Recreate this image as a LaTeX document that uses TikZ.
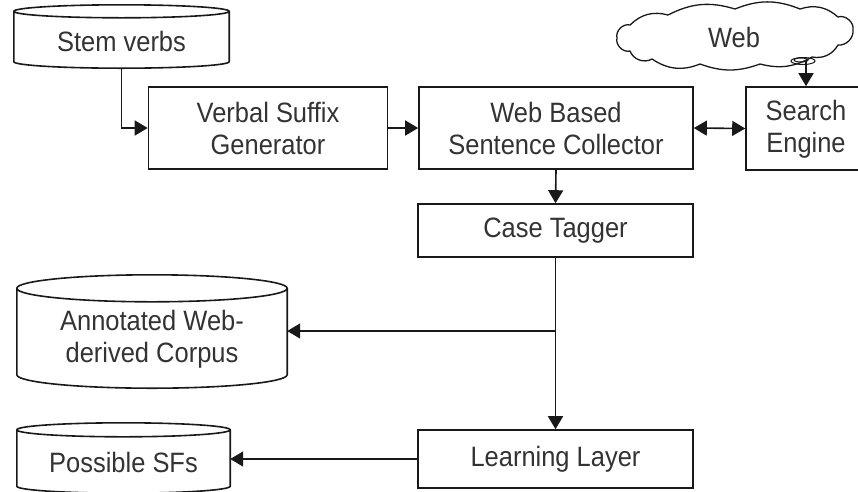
\documentclass[tikz,border=0pt]{standalone}
\usepackage{fontspec}
\setmainfont[FakeStretch=0.91]{Liberation Sans}
\usetikzlibrary{arrows.meta,calc}

\tikzset{
  line/.style={line width=1.6pt, draw=black!90},
  tip/.tip={Triangle[length=13pt,width=15pt]},
  arr/.style={line, -tip},
  darr/.style={line, tip-tip},
  txt/.style={text=black!80, font=\fontsize{28}{32}\selectfont, align=center, inner sep=0pt},
  box/.style={line, rectangle, txt, inner sep=0pt},
  holder/.style={rectangle, draw=none, inner sep=0pt},
}

% database drum drawn on the frame of a holder node: #1 node name, #2 end-ellipse y radius
\newcommand\dbdrum[2]{%
  \draw[line] let \p1=(#1.north west), \p2=(#1.south east), \n1={(\x2-\x1)/2} in
    (\x1,\y1-#2) -- (\x1,\y2+#2)
    arc[start angle=180, end angle=360, x radius=\n1, y radius=#2]
    -- (\x2,\y1-#2)
    arc[start angle=0, end angle=180, x radius=\n1, y radius=#2]
    (\x1,\y1-#2) arc[start angle=180, end angle=360, x radius=\n1, y radius=#2];}

\begin{document}
\begin{tikzpicture}[x=1pt, y=-1pt]
\useasboundingbox (0,0) rectangle (858,491);

% storage drums
\node[holder, minimum width=215pt, minimum height=63pt] (stem) at (121.5,36.5) {};
\dbdrum{stem}{6.5pt}
\node[txt] (stemtxt) at (121.5,41) {Stem verbs};

\node[holder, minimum width=270pt, minimum height=113pt] (annot) at (152,331.5) {};
\dbdrum{annot}{13.5pt}
\node[txt] (annottxt) at (152,339) {Annotated Web-\\derived Corpus};

\node[holder, minimum width=213pt, minimum height=70pt] (psf) at (123.5,458) {};
\dbdrum{psf}{7pt}
\node[txt] (psftxt) at (123.5,462.5) {Possible SFs};

% processing boxes
\node[box, minimum width=239pt, minimum height=82pt] (vsg) at (268,128) {Verbal Suffix\\Generator};
\node[box, minimum width=274pt, minimum height=82pt] (wbsc) at (556,128) {Web Based\\Sentence Collector};
\node[box, minimum width=120pt, minimum height=83pt] (search) at (806,128.5) {};
\node[txt] (searchtxt) at (806,129) {Search\\Engine};
\node[box, minimum width=275pt, minimum height=53pt] (case) at (555.5,230.5) {Case Tagger};
\node[box, minimum width=275pt, minimum height=58pt] (learn) at (555.5,459) {Learning Layer};

% the web: a flat hand-drawn cloud
\node[txt] (web) at (734,37) {Web};
\draw[line, line width=1.3pt]
  (617,38) to[bend left=60] (630,25) to[bend left=30] (668,15)
  to[bend left=22] (735,9) to[bend left=22] (800,9) to[bend left=30] (838,17)
  to[bend left=60] (853,30) to[bend left=50] (838,45) to[bend left=35] (812,57)
  to[bend left=22] (760,64) to[bend left=20] (700,64) to[bend left=28] (652,59)
  to[bend left=50] (630,51) to[bend left=60] cycle;
\draw[line, line width=1pt] (803,61) ellipse[x radius=12pt, y radius=3.5pt];
\draw[line, line width=1pt] (801,60) ellipse[x radius=7pt, y radius=2pt];
\coordinate (tail) at (806,60);

% connectors
\draw[arr] (stem.south) |- (vsg.west);
\draw[arr] (vsg.east) -- (wbsc.west);
\draw[darr] (wbsc.east) -- (search.west);
\draw[arr] (tail) -- (search.north);
\draw[arr] (wbsc.south) -- (case.north);
\draw[arr] (case.south) -- (learn.north);
\coordinate (split) at (case.south |- 0,331);
\draw[arr] (split) -- (split -| annot.east);
\draw[arr] (learn.west) -- (learn.west -| psf.east);
\end{tikzpicture}
\end{document}
